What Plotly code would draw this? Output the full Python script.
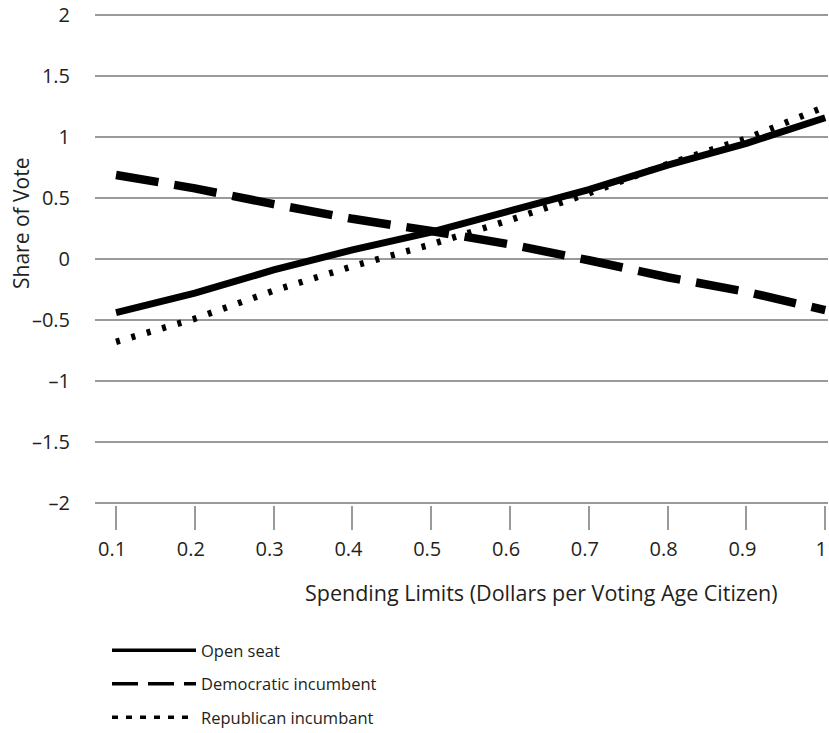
import plotly.graph_objects as go

# Data
spending_limits = [0.1, 0.2, 0.3, 0.4, 0.5, 0.6, 0.7, 0.8, 0.9, 1.0]
open_seat = [-0.44, -0.28, -0.09, 0.075, 0.22, 0.39, 0.57, 0.77, 0.95, 1.16]
democratic_incumbent = [0.69, 0.58, 0.45, 0.33, 0.23, 0.12, -0.01, -0.15, -0.27, -0.42]
republican_incumbant = [-0.68, -0.49, -0.26, -0.06, 0.12, 0.32, 0.54, 0.78, 0.99, 1.25]
series_names = ["Open seat", "Democratic incumbent", "Republican incumbant"]

x_tick_vals = [0.1, 0.2, 0.3, 0.4, 0.5, 0.6, 0.7, 0.8, 0.9, 1.0]
x_tick_labels = ["0.1", "0.2", "0.3", "0.4", "0.5", "0.6", "0.7", "0.8", "0.9", "1"]
y_tick_vals = [-2, -1.5, -1, -0.5, 0, 0.5, 1, 1.5, 2]
y_tick_labels = ["–2", "–1.5", "–1", "–0.5", "0", "0.5", "1", "1.5", "2"]

FONT = "Open Sans"
TXT = "#231f20"
GRID = "#9a9a9a"

line_styles = [
    dict(color="black", width=7),
    dict(color="black", width=8.5, dash="43px,16px"),
    dict(color="black", width=6.5, dash="4px,12px"),
]
legend_styles = [
    dict(color="black", width=3.5),
    dict(color="black", width=3.5, dash="26px,10px"),
    dict(color="black", width=3.5, dash="6px,8px"),
]
series_values = [open_seat, democratic_incumbent, republican_incumbant]

fig = go.Figure()
for name, vals, st in zip(series_names, series_values, line_styles):
    fig.add_trace(go.Scatter(
        x=spending_limits, y=vals, mode="lines", name=name,
        line=st, showlegend=False, legendgroup=name,
    ))
# legend entries (thin key lines, as in the reference key)
for name, st in zip(series_names, legend_styles):
    fig.add_trace(go.Scatter(
        x=[None], y=[None], mode="lines", name=name,
        line=st, showlegend=True, legendgroup=name,
    ))

W, H = 829, 733
ML, MR, MT, MB = 95, 1, 13, 228
plot_w = W - ML - MR
plot_h = H - MT - MB
bottom = H - MB

fig.update_layout(
    width=W, height=H,
    margin=dict(l=ML, r=MR, t=MT, b=MB, autoexpand=False),
    paper_bgcolor="white", plot_bgcolor="white",
    font=dict(family=FONT, size=16, color=TXT),
    showlegend=True,
    legend=dict(
        x=(107 - ML) / plot_w, y=-(633 - bottom) / plot_h, xanchor="left", yanchor="top",
        font=dict(family=FONT, size=16.5, color=TXT),
        tracegroupgap=9, itemwidth=84, bgcolor="rgba(0,0,0,0)",
    ),
    xaxis=dict(
        range=[0.0733, 1.0035],
        tickvals=x_tick_vals, ticktext=x_tick_labels,
        showgrid=False, zeroline=False, showline=False,
        ticks="outside", ticklen=24, tickwidth=1.5, tickcolor=GRID,
        ticklabelstandoff=2, ticklabelshift=-4, ticklabeloverflow="allow",
        tickfont=dict(family=FONT, size=20, color=TXT),
    ),
    yaxis=dict(
        range=[-2.02, 2.02],
        tickvals=y_tick_vals, ticktext=y_tick_labels,
        showgrid=True, gridcolor=GRID, gridwidth=1.5,
        zeroline=False, showline=False, ticks="",
        ticklabelstandoff=24, ticklabeloverflow="allow",
        tickfont=dict(family=FONT, size=20, color=TXT),
    ),
    annotations=[
        dict(text="Share of Vote", textangle=-90, xref="paper", yref="paper",
             x=(21 - ML) / plot_w, y=(bottom - 224) / plot_h, xanchor="center", yanchor="middle",
             showarrow=False, font=dict(family=FONT, size=21, color=TXT)),
        dict(text="Spending Limits (Dollars per Voting Age Citizen)", xref="paper", yref="paper",
             x=(541 - ML) / plot_w, y=-(592 - bottom) / plot_h, xanchor="center", yanchor="middle",
             showarrow=False, font=dict(family=FONT, size=21.5, color=TXT)),
    ],
)

fig.write_html(
    "out.html",
    config={"displayModeBar": False},
    post_script="document.body.style.margin='0px'; document.body.style.overflow='hidden';",
)
